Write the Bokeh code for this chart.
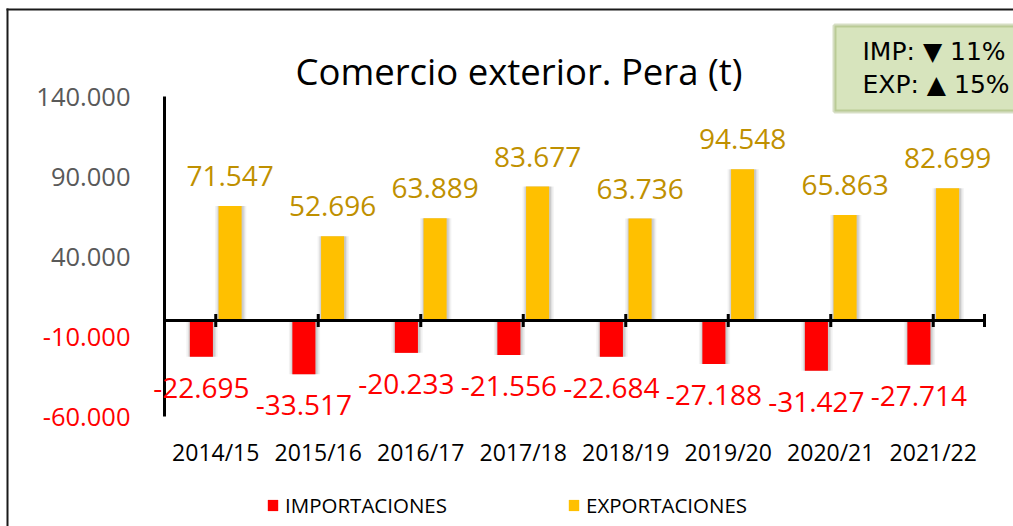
from bokeh.plotting import figure
from bokeh.models import (ColumnDataSource, Range1d, LabelSet, Label,
                          BoxAnnotation, Legend, LegendItem)
from bokeh.core.properties import value
from bokeh.transform import dodge
from bokeh.embed import file_html
from bokeh.resources import INLINE

# ---------------- data ----------------
categories = ["2014/15", "2015/16", "2016/17", "2017/18", "2018/19", "2019/20", "2020/21", "2021/22"]
importaciones = [-22695, -33517, -20233, -21556, -22684, -27188, -31427, -27714]
exportaciones = [71547, 52696, 63889, 83677, 63736, 94548, 65863, 82699]
y_ticks = [-60000, -10000, 40000, 90000, 140000]
resumen_series = ["IMP", "EXP"]
resumen_cambio = [-11, 15]
series_names = ["IMPORTACIONES", "EXPORTACIONES"]
title_text = "Comercio exterior. Pera (t)"


def fmt(v):
    return f"{v:,}".replace(",", ".")


# ---------------- style / layout ----------------
W, H = 1013, 526
FONT = "Open Sans"
BOX_FONT = "DejaVu Sans"
RED = "#FF0000"
GOLD = "#FFC000"
GOLD_TXT = "#BF9000"
GRAY_TXT = "#595959"
OFF = 0.14
BW = 0.225
n = len(categories)

X0_PX = 164          # pixel column of the vertical axis
PX_PER_CAT = 102.5   # pixels per category
Y0_PX = 320          # pixel row of the zero line
PX_PER_Y = 0.0016    # pixels per tonne

src = ColumnDataSource(dict(
    x=[i + 0.5 for i in range(n)],
    cat=categories,
    imp=importaciones,
    exp=exportaciones,
    imp_txt=[fmt(v) for v in importaciones],
    exp_txt=[fmt(v) for v in exportaciones],
    zero=[0] * n,
    base=[min(y_ticks)] * n,
))

p = figure(width=W, height=H, output_backend="svg", toolbar_location=None,
           x_axis_location=None, y_axis_location=None,
           x_range=Range1d(-X0_PX / PX_PER_CAT, (W - X0_PX) / PX_PER_CAT),
           y_range=Range1d(-(H - Y0_PX) / PX_PER_Y, Y0_PX / PX_PER_Y),
           min_border=0, background_fill_color="white", border_fill_color="white")
p.outline_line_color = None
p.grid.visible = False

# ---- bar shadows ----
for extra, alpha in [(0.08, 0.05), (0.05, 0.07), (0.025, 0.09)]:
    p.vbar(x=dodge("x", -OFF + 0.006, range=p.x_range), width=BW + extra, top="zero", bottom="imp",
           source=src, fill_color="black", fill_alpha=alpha, line_color=None)
    p.vbar(x=dodge("x", OFF + 0.006, range=p.x_range), width=BW + extra, top="exp", bottom="zero",
           source=src, fill_color="black", fill_alpha=alpha, line_color=None)

# ---- bars ----
r_imp = p.vbar(x=dodge("x", -OFF, range=p.x_range), width=BW, top="zero", bottom="imp",
               source=src, fill_color=RED, line_color=None)
r_exp = p.vbar(x=dodge("x", OFF, range=p.x_range), width=BW, top="exp", bottom="zero",
               source=src, fill_color=GOLD, line_color=None)

# ---- axes lines ----
p.segment(x0=0, x1=0, y0=min(y_ticks), y1=max(y_ticks), line_color="black", line_width=3)
p.segment(x0=0, x1=n, y0=0, y1=0, line_color="black", line_width=3)
p.scatter(x=[i + 0.5 for i in range(n)] + [n], y=[0] * (n + 1), marker="dash", size=13,
          angle=1.5708, line_color="black", line_width=3)

# ---- y tick labels ----
ytick_src = ColumnDataSource(dict(
    x=[0] * len(y_ticks), y=y_ticks, t=[fmt(t) for t in y_ticks],
    c=[RED if t < 0 else GRAY_TXT for t in y_ticks]))
p.add_layout(LabelSet(x="x", y="y", text="t", source=ytick_src, x_offset=-34,
                      text_align="right", text_baseline="middle", text_font=value(FONT),
                      text_font_size=value("25.5px"), text_color="c"))

# ---- category labels ----
p.add_layout(LabelSet(x="x", y="base", text="cat", source=src, y_offset=-35,
                      text_align="center", text_baseline="middle", text_font=value(FONT),
                      text_font_size=value("23px"), text_color="black"))

# ---- data labels ----
p.add_layout(LabelSet(x=dodge("x", OFF, range=p.x_range), y="exp", text="exp_txt", source=src,
                      y_offset=30, text_align="center", text_baseline="middle",
                      text_font=value(FONT), text_font_size=value("28px"), text_color=GOLD_TXT))
p.add_layout(LabelSet(x=dodge("x", -OFF, range=p.x_range), y="imp", text="imp_txt", source=src,
                      y_offset=-31, text_align="center", text_baseline="middle",
                      text_font=value(FONT), text_font_size=value("28px"), text_color=RED))

# ---- legend ----
legend = Legend(items=[LegendItem(label=series_names[0], renderers=[r_imp]),
                       LegendItem(label=series_names[1], renderers=[r_exp])],
                orientation="horizontal", location=(266, 7),
                glyph_width=13, glyph_height=14, label_standoff=6, spacing=120,
                label_width=160, label_height=14, label_text_font=FONT,
                label_text_font_size="20.5px", label_text_color="black",
                padding=0, margin=0, border_line_color=None, background_fill_alpha=0)
p.add_layout(legend)

# ---- title ----
p.add_layout(Label(x=518.5, y=70, x_units="canvas", y_units="canvas", text=title_text,
                   text_align="center", text_baseline="alphabetic", text_font=FONT,
                   text_font_size="36.5px", text_color="black"))

# ---- chart area border (left & top) ----
p.add_layout(BoxAnnotation(left=6, right=8, top=8, bottom=H + 5, left_units="canvas",
                           right_units="canvas", top_units="canvas", bottom_units="canvas",
                           fill_color="#1a1a1a", fill_alpha=1, line_color=None))
p.add_layout(BoxAnnotation(left=6, right=W + 5, top=8, bottom=10, left_units="canvas",
                           right_units="canvas", top_units="canvas", bottom_units="canvas",
                           fill_color="#1a1a1a", fill_alpha=1, line_color=None))

# ---- summary box ----
p.add_layout(BoxAnnotation(left=834, right=W + 30, top=25, bottom=111, left_units="canvas",
                           right_units="canvas", top_units="canvas", bottom_units="canvas",
                           fill_color="#D7E4BD", fill_alpha=1, line_color="#77933C", line_width=4))
for i, (s, c) in enumerate(zip(resumen_series, resumen_cambio)):
    arrow = "\u25BC" if c < 0 else "\u25B2"
    p.add_layout(Label(x=862, y=51 + i * 33.3, x_units="canvas", y_units="canvas",
                       text=f"{s}: {arrow} {abs(c)}%", text_align="left", text_baseline="middle",
                       text_font=BOX_FONT, text_font_size="25px", text_color="black"))

open("out.html", "w").write(file_html(p, INLINE))
